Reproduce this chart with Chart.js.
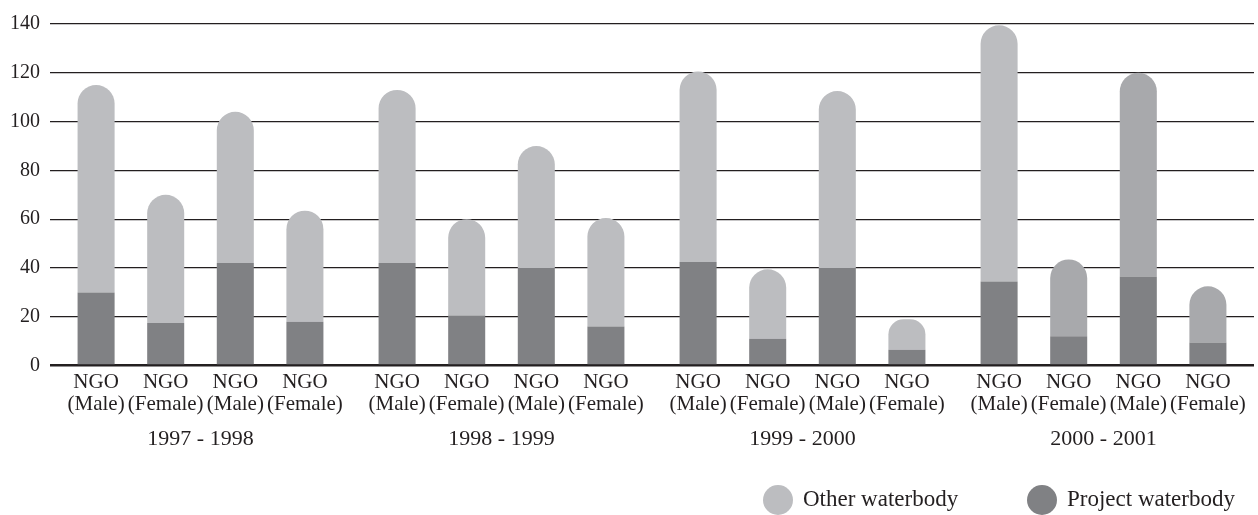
<!DOCTYPE html>
<html>
<head>
<meta charset="utf-8">
<script src="https://cdn.jsdelivr.net/npm/chart.js@4.4.1/dist/chart.umd.min.js"></script>
<style>
body{margin:0;background:#fff;}
#wrap{width:1258px;height:515px;position:relative;}
</style>
</head>
<body>
<div id="wrap"><canvas id="mycanvas"></canvas></div>
<script>
var years = ['1997 - 1998', '1998 - 1999', '1999 - 2000', '2000 - 2001'];
var barNames = ['(Male)', '(Female)', '(Male)', '(Female)'];
var seriesNames = ['Other waterbody', 'Project waterbody'];
// 4 bars per year, in order of the years
var project = [30, 17.5, 42, 18,   42, 20.5, 40, 16,   42.5, 11, 40, 6.5,   34.5, 12, 36.5, 9.5];
var other   = [85, 52.5, 62, 45.5, 71, 39.5, 50, 44.5, 78, 28.5, 72.5, 12.5, 105, 31.5, 83.5, 23];
var yTicks = [0, 20, 40, 60, 80, 100, 120, 140];

var light = '#bcbdc0', mid = '#a8a9ac', dark = '#808184', ink = '#231f20';
var font = '"Liberation Serif", "Times New Roman", serif';

var datasets = [];
for (var p = 0; p < 4; p++) {
	var pv = [], ov = [], oc = [];
	for (var y = 0; y < years.length; y++) {
		pv.push(project[y * 4 + p]);
		ov.push(other[y * 4 + p]);
		oc.push(y == 3 && p > 0 ? mid : light);
	}
	datasets.push({label: seriesNames[1], data: pv, backgroundColor: dark, stack: 's' + p, borderRadius: 0, borderSkipped: false});
	datasets.push({label: seriesNames[0], data: ov, backgroundColor: oc, stack: 's' + p,
		borderRadius: {topLeft: 40, topRight: 40, bottomLeft: 0, bottomRight: 0}, borderSkipped: false});
}

// NGO labels under each bar
var ngoLabels = {
	id: 'ngoLabels',
	afterDraw: function(chart) {
		var ctx = chart.ctx, top = chart.scales.x.top;
		ctx.save();
		ctx.fillStyle = ink;
		ctx.font = '21px ' + font;
		ctx.textAlign = 'center';
		ctx.textBaseline = 'middle';
		for (var p = 0; p < 4; p++) {
			var meta = chart.getDatasetMeta(p * 2);
			meta.data.forEach(function(bar) {
				ctx.fillText('NGO', bar.x, top + 17);
				ctx.fillText(barNames[p], bar.x, top + 39);
			});
		}
		ctx.restore();
	}
};

// legend, bottom right
var legendBox = {
	id: 'legendBox',
	afterDraw: function(chart) {
		var ctx = chart.ctx;
		var items = [{t: seriesNames[0], c: light, x: 778}, {t: seriesNames[1], c: dark, x: 1042}];
		ctx.save();
		ctx.font = '23px ' + font;
		ctx.textBaseline = 'middle';
		ctx.textAlign = 'left';
		items.forEach(function(it) {
			ctx.fillStyle = it.c;
			ctx.beginPath();
			ctx.arc(it.x, 500, 15, 0, Math.PI * 2);
			ctx.fill();
			ctx.fillStyle = ink;
			ctx.fillText(it.t, it.x + 25, 500);
		});
		ctx.restore();
	}
};

var ctx = document.getElementById('mycanvas');
var barGraph = new Chart(ctx, {
	type: 'bar',
	data: {labels: years, datasets: datasets},
	plugins: [ngoLabels, legendBox],
	options: {
		responsive: true,
		maintainAspectRatio: false,
		animation: false,
		layout: {padding: {top: 24, left: 0, right: 4, bottom: 3}},
		plugins: {legend: {display: false}, tooltip: {enabled: false}},
		datasets: {bar: {categoryPercentage: 0.925, barPercentage: 0.532}},
		scales: {
			x: {
				stacked: true,
				grid: {display: false, drawTicks: false},
				border: {display: false},
				ticks: {color: ink, font: {family: font, size: 22}, padding: 60}
			},
			y: {
				stacked: true,
				min: 0, max: 140,
				afterBuildTicks: function(scale) { scale.ticks = yTicks.map(function(v) { return {value: v}; }); },
				grid: {color: ink, drawTicks: false, lineWidth: function(c) { return c.tick && c.tick.value === 0 ? 2.5 : 1.2; }},
				border: {display: false},
				ticks: {color: ink, font: {family: font, size: 20}, padding: 10}
			}
		}
	}
});
</script>
</body>
</html>
